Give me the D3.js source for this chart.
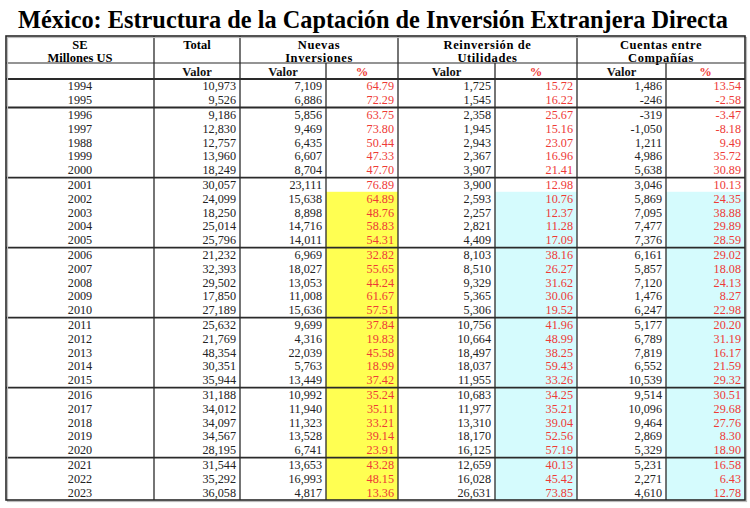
<!DOCTYPE html>
<html>
<head>
<meta charset="utf-8">
<script src="https://cdn.jsdelivr.net/npm/d3@7"></script>
<style>
  body { margin: 0; background: #fff; }
  svg { display: block; font-family: "Liberation Serif", "Times New Roman", serif; }
</style>
</head>
<body>
<script>
var width = 750;
var height = 508;

var years = ["1994", "1995", "1996", "1997", "1988", "1999", "2000", "2001", "2002", "2003",
    "2004", "2005", "2006", "2007", "2008", "2009", "2010", "2011", "2012", "2013",
    "2014", "2015", "2016", "2017", "2018", "2019", "2020", "2021", "2022", "2023"];
var groupSizes = [2, 5, 5, 5, 5, 5, 3];

var total = [10973, 9526, 9186, 12830, 12757, 13960, 18249, 30057, 24099, 18250,
    25014, 25796, 21232, 32393, 29502, 17850, 27189, 25632, 21769, 48354,
    30351, 35944, 31188, 34012, 34097, 34567, 28195, 31544, 35292, 36058];
var nuevas = [7109, 6886, 5856, 9469, 6435, 6607, 8704, 23111, 15638, 8898,
    14716, 14011, 6969, 18027, 13053, 11008, 15636, 9699, 4316, 22039,
    5763, 13449, 10992, 11940, 11323, 13528, 6741, 13653, 16993, 4817];
var nuevasPct = [64.79, 72.29, 63.75, 73.80, 50.44, 47.33, 47.70, 76.89, 64.89, 48.76,
    58.83, 54.31, 32.82, 55.65, 44.24, 61.67, 57.51, 37.84, 19.83, 45.58,
    18.99, 37.42, 35.24, 35.11, 33.21, 39.14, 23.91, 43.28, 48.15, 13.36];
var reinv = [1725, 1545, 2358, 1945, 2943, 2367, 3907, 3900, 2593, 2257,
    2821, 4409, 8103, 8510, 9329, 5365, 5306, 10756, 10664, 18497,
    18037, 11955, 10683, 11977, 13310, 18170, 16125, 12659, 16028, 26631];
var reinvPct = [15.72, 16.22, 25.67, 15.16, 23.07, 16.96, 21.41, 12.98, 10.76, 12.37,
    11.28, 17.09, 38.16, 26.27, 31.62, 30.06, 19.52, 41.96, 48.99, 38.25,
    59.43, 33.26, 34.25, 35.21, 39.04, 52.56, 57.19, 40.13, 45.42, 73.85];
var cuentas = [1486, -246, -319, -1050, 1211, 4986, 5638, 3046, 5869, 7095,
    7477, 7376, 6161, 5857, 7120, 1476, 6247, 5177, 6789, 7819,
    6552, 10539, 9514, 10096, 9464, 2869, 5329, 5231, 2271, 4610];
var cuentasPct = [13.54, -2.58, -3.47, -8.18, 9.49, 35.72, 30.89, 10.13, 24.35, 38.88,
    29.89, 28.59, 29.02, 18.08, 24.13, 8.27, 22.98, 20.20, 31.19, 16.17,
    21.59, 29.32, 30.51, 29.68, 27.76, 8.30, 18.90, 16.58, 6.43, 12.78];

var groupHeaders = [["SE", "Millones US"], ["Total"], ["Nuevas", "Inversiones"],
    ["Reinversión de", "Utilidades"], ["Cuentas entre", "Compañías"]];
var subHeaders = ["", "Valor", "Valor", "%", "Valor", "%", "Valor", "%"];

// column edges
var edges = [6, 154, 240, 326, 398, 495, 577, 666, 745];
var groupEdges = [6, 154, 240, 398, 577, 745];
var tableTop = 36, headSplit = 63, bodyTop = 79, bodyBottom = 500;
var red = "#ee3a36";

var loc = d3.formatLocale({decimal: ".", thousands: ",", grouping: [3], currency: ["$", ""], minus: "-"});
var fmtV = loc.format(",");
var fmtP = loc.format(".2f");

// row slots with a small gap for each group
var gap = 0.06;
var rows = [];
var gi = 0, count = 0;
years.forEach(function(y, i) {
    if (count === groupSizes[gi]) { gi++; count = 0; }
    rows.push({i: i, group: gi, first: count === 0, slot: i + gi * gap + gap / 2});
    count++;
});
var y = d3.scaleLinear()
    .domain([0, years.length + groupSizes.length * gap])
    .range([bodyTop, bodyBottom]);

var svg = d3.select("body").append("svg")
    .attr("width", width)
    .attr("height", height);

svg.append("text")
    .attr("x", 373)
    .attr("y", 28)
    .attr("text-anchor", "middle")
    .attr("font-size", "25px")
    .attr("font-weight", "bold")
    .attr("textLength", 710)
    .attr("lengthAdjust", "spacingAndGlyphs")
    .text("México: Estructura de la Captación de Inversión Extranjera Directa");

// shading
var hiStart = y(rows[8].slot);
[[3, "#ffff52"], [5, "#d5fbfd"], [7, "#d5fbfd"]].forEach(function(c) {
    svg.append("rect")
        .attr("x", edges[c[0]])
        .attr("y", hiStart)
        .attr("width", edges[c[0] + 1] - edges[c[0]])
        .attr("height", bodyBottom - hiStart)
        .attr("fill", c[1]);
});

// header texts
groupHeaders.forEach(function(lines, k) {
    var cx = (groupEdges[k] + groupEdges[k + 1]) / 2;
    lines.forEach(function(t, j) {
        svg.append("text")
            .attr("x", cx)
            .attr("y", 49 + j * 13)
            .attr("text-anchor", "middle")
            .attr("font-size", "12.5px")
            .attr("font-weight", "bold")
            .attr("letter-spacing", k >= 2 ? "0.6px" : "0px")
            .text(t);
    });
});
subHeaders.forEach(function(t, k) {
    svg.append("text")
        .attr("x", (edges[k] + edges[k + 1]) / 2)
        .attr("y", 76)
        .attr("text-anchor", "middle")
        .attr("font-size", "12.5px")
        .attr("font-weight", "bold")
        .attr("fill", t === "%" ? red : "#111")
        .text(t);
});

// body cells
var cols = [
    {vals: years, f: function(v) { return v; }, center: true, color: "#222"},
    {vals: total, f: fmtV, color: "#222"},
    {vals: nuevas, f: fmtV, color: "#222"},
    {vals: nuevasPct, f: fmtP, color: red},
    {vals: reinv, f: fmtV, color: "#222"},
    {vals: reinvPct, f: fmtP, color: red},
    {vals: cuentas, f: fmtV, color: "#222"},
    {vals: cuentasPct, f: fmtP, color: red}
];
cols.forEach(function(c, k) {
    svg.append("g").selectAll("text")
        .data(rows)
        .join("text")
        .attr("x", c.center ? (edges[k] + edges[k + 1]) / 2 : edges[k + 1] - 4)
        .attr("y", function(d) { return y(d.slot + 0.5) + 4; })
        .attr("text-anchor", c.center ? "middle" : "end")
        .attr("font-size", "12.2px")
        .attr("fill", c.color)
        .text(function(d) { return c.f(c.vals[d.i]); });
});

// grid lines
var lineColor = "#2a2a2a";
// vertical lines in header top row (group edges only)
groupEdges.slice(1, -1).forEach(function(x) {
    svg.append("line").attr("x1", x).attr("x2", x).attr("y1", tableTop).attr("y2", headSplit)
        .attr("stroke", lineColor).attr("stroke-width", 1.3);
});
edges.slice(1, -1).forEach(function(x) {
    svg.append("line").attr("x1", x).attr("x2", x).attr("y1", headSplit).attr("y2", bodyBottom)
        .attr("stroke", lineColor).attr("stroke-width", 1.3);
});
svg.append("line").attr("x1", edges[0]).attr("x2", edges[8]).attr("y1", headSplit).attr("y2", headSplit)
    .attr("stroke", lineColor).attr("stroke-width", 1.1);
svg.append("line").attr("x1", edges[0]).attr("x2", edges[8]).attr("y1", bodyTop).attr("y2", bodyTop)
    .attr("stroke", lineColor).attr("stroke-width", 2);
rows.filter(function(d) { return d.first && d.group > 0; }).forEach(function(d) {
    var yy = y(d.slot - gap / 2);
    svg.append("line").attr("x1", edges[0]).attr("x2", edges[8]).attr("y1", yy).attr("y2", yy)
        .attr("stroke", lineColor).attr("stroke-width", 1.8);
});
// soft shadow + outer border
svg.append("rect")
    .attr("x", edges[0] + 1.5).attr("y", tableTop + 1.5)
    .attr("width", edges[8] - edges[0]).attr("height", bodyBottom - tableTop)
    .attr("fill", "none").attr("stroke", "#bbb").attr("stroke-width", 1.2);
svg.append("rect")
    .attr("x", edges[0]).attr("y", tableTop)
    .attr("width", edges[8] - edges[0]).attr("height", bodyBottom - tableTop)
    .attr("fill", "none").attr("stroke", lineColor).attr("stroke-width", 1.6);
</script>
</body>
</html>
